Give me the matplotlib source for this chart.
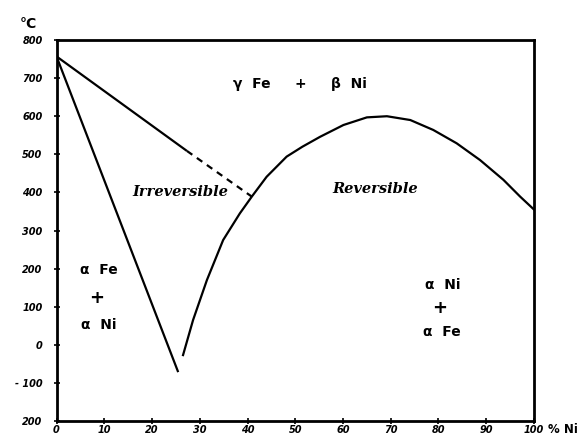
import matplotlib
matplotlib.use("Agg")
import matplotlib.pyplot as plt

# Data (x in % Ni, y in °C)
upper_solid_x = [0.0, 27.3]
upper_solid_y = [757, 509]
upper_dashed_x = [27.3, 40.9]
upper_dashed_y = [509, 389]
v_left_x = [0.0, 25.4]
v_left_y = [757, -69]
curve_x = [26.5, 28.6, 31.5, 34.9, 38.4, 40.9, 44.0, 48.2, 51.5, 55.2, 60.1,
           65.0, 69.2, 74.1, 78.9, 83.8, 88.7, 93.6, 97.1, 100.0]
curve_y = [-27, 65, 170, 275, 345, 389, 441, 494, 520, 546, 577,
           597, 600, 590, 564, 529, 485, 433, 389, 355]

x_ticks = [0, 10, 20, 30, 40, 50, 60, 70, 80, 90, 100]
x_tick_labels = ["0", "10", "20", "30", "40", "50", "60", "70", "80", "90", "100"]
y_ticks = [800, 700, 600, 500, 400, 300, 200, 100, 0, -100, -200]
y_tick_labels = ["800", "700", "600", "500", "400", "300", "200", "100", "0", "- 100", "200"]

fig = plt.figure(figsize=(5.85, 4.4), dpi=100)
ax = fig.add_axes([0.0966, 0.0432, 0.9128 - 0.0966, 0.909 - 0.0432])

lw = 1.6
ax.plot(upper_solid_x, upper_solid_y, color="black", lw=lw, solid_capstyle="butt")
ax.plot(upper_dashed_x, upper_dashed_y, color="black", lw=lw, dashes=(3, 2.5))
ax.plot(v_left_x, v_left_y, color="black", lw=lw)
ax.plot(curve_x, curve_y, color="black", lw=lw)

ax.set_xlim(0, 100)
ax.set_ylim(-200, 800)
ax.set_xticks(x_ticks)
ax.set_xticklabels(x_tick_labels)
ax.set_yticks(y_ticks)
ax.set_yticklabels(y_tick_labels)
for sp in ax.spines.values():
    sp.set_linewidth(2.0)
ax.tick_params(direction="inout", length=4, width=1.2, labelsize=7)
ax.tick_params(axis="x", pad=1)
ax.tick_params(axis="y", pad=8)
for lab in ax.get_xticklabels() + ax.get_yticklabels():
    lab.set_fontweight("bold")
    lab.set_fontstyle("italic")

lab_font = dict(family="DejaVu Sans", fontweight="bold", fontsize=10, ha="center", va="center")
ax.text(51, 685, "γ  Fe     +     β  Ni", **lab_font)
ax.text(25.9, 401, "Irreversible", family="DejaVu Serif", fontweight="bold",
        fontstyle="italic", fontsize=10.5, ha="center", va="center")
ax.text(66.8, 409, "Reversible", family="DejaVu Serif", fontweight="bold",
        fontstyle="italic", fontsize=10.5, ha="center", va="center")

ax.text(8.9, 196, "α  Fe", **lab_font)
ax.text(8.5, 123, "+", family="DejaVu Sans", fontweight="bold", fontsize=13, ha="center", va="center")
ax.text(8.9, 52, "α  Ni", **lab_font)

ax.text(80.8, 157, "α  Ni", **lab_font)
ax.text(80.3, 97, "+", family="DejaVu Sans", fontweight="bold", fontsize=13, ha="center", va="center")
ax.text(80.8, 34, "α  Fe", **lab_font)

fig.text(20 / 585, 1 - 24 / 440, "°C", fontsize=10, fontweight="bold", ha="left", va="center")
fig.text(548 / 585, 1 - 429 / 440, "% Ni", fontsize=8.5, fontweight="bold", ha="left", va="center")

fig.savefig("out.png", dpi=100)
